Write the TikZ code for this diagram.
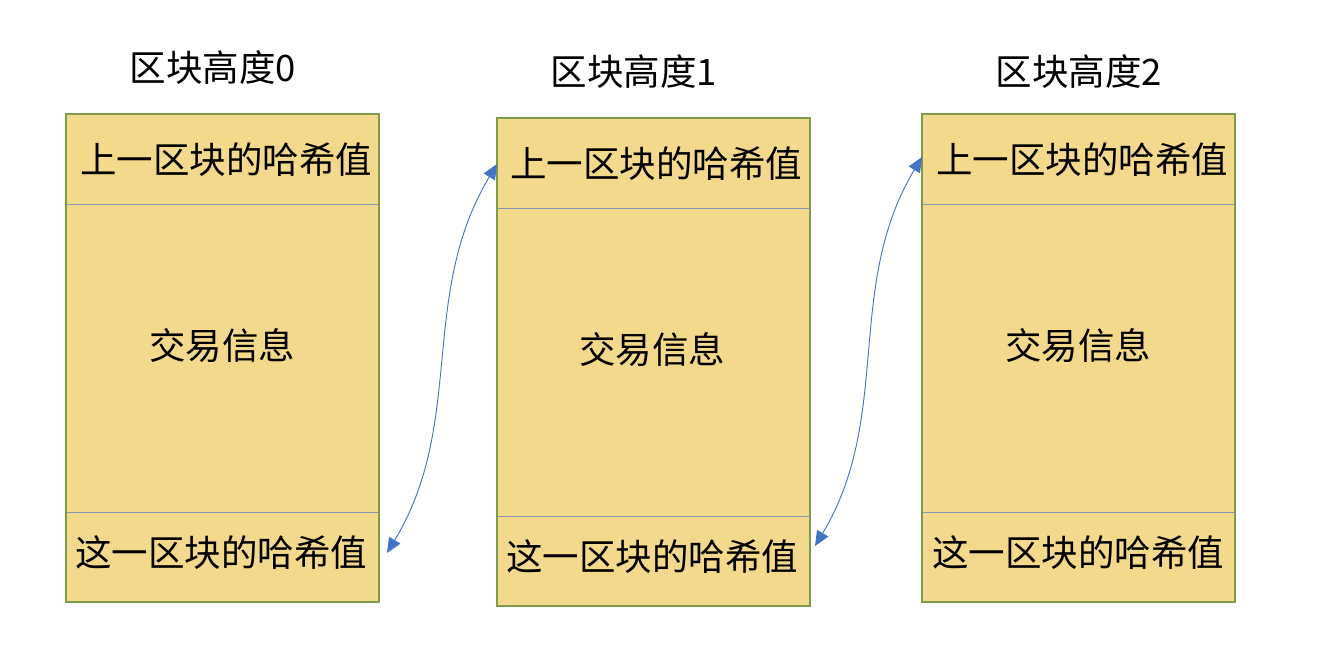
\documentclass[tikz,border=0pt]{standalone}
\usepackage{fontspec}
\newfontfamily\cjk{Noto Sans CJK SC}
\usetikzlibrary{arrows.meta}
\definecolor{boxfill}{HTML}{F3D98B}
\definecolor{boxedge}{HTML}{7F9A4A}
\definecolor{divider}{HTML}{8497B0}
\definecolor{arrowblue}{HTML}{4472C4}
\tikzset{
  sect/.style={fill=boxfill, inner sep=0pt, minimum width=313pt},
  frame/.style={draw=boxedge, line width=2pt},
  divline/.style={draw=divider, line width=1pt},
  title/.style={font=\cjk\fontsize{36.5}{42}\selectfont, text=black, inner sep=0pt},
  link/.style={draw=arrowblue, line width=0.9pt, {Triangle[length=15pt,width=13pt]}-{Triangle[length=15pt,width=13pt]}}
}
\begin{document}
\begin{tikzpicture}[x=1pt,y=-1pt]
\useasboundingbox (0,0) rectangle (1328,648);
\foreach \i/\x/\y in {0/66/114, 1/497/118, 2/922/114} {
  \node[sect, anchor=north west, minimum height=90pt] (t\i) at (\x,\y) {};
  \node[sect, anchor=north west, minimum height=308pt] (m\i) at (\x,\y+90) {};
  \node[sect, anchor=north west, minimum height=90pt] (b\i) at (\x,\y+398) {};
  \draw[divline] (t\i.south west) -- (t\i.south east);
  \draw[divline] (m\i.south west) -- (m\i.south east);
  \draw[frame] (t\i.north west) rectangle (b\i.south east);
}
% texts
\node[title] (h0) at (213,68) {区块高度0};
\node[title] (h1) at (634,72) {区块高度1};
\node[title] (h2) at (1079,72) {区块高度2};
\node[title] (pt0) at (226,160) {上一区块的哈希值};
\node[title] (pt1) at (656,164) {上一区块的哈希值};
\node[title] (pt2) at (1082,160) {上一区块的哈希值};
\node[title] (tx0) at (222,346) {交易信息};
\node[title] (tx1) at (652,350) {交易信息};
\node[title] (tx2) at (1078,346) {交易信息};
\node[title] (ch0) at (221,553) {这一区块的哈希值};
\node[title] (ch1) at (652,557) {这一区块的哈希值};
\node[title] (ch2) at (1078,553) {这一区块的哈希值};
% connectors
\coordinate (a0) at (387,553);
\coordinate (a1) at (497,164);
\coordinate (c1) at (815,546);
\coordinate (c2) at (922,157);
\draw[link] (a0) .. controls (466,422) and (418,296) .. (a1);
\draw[link] (c1) .. controls (893,416) and (844,287) .. (c2);
\end{tikzpicture}
\end{document}
